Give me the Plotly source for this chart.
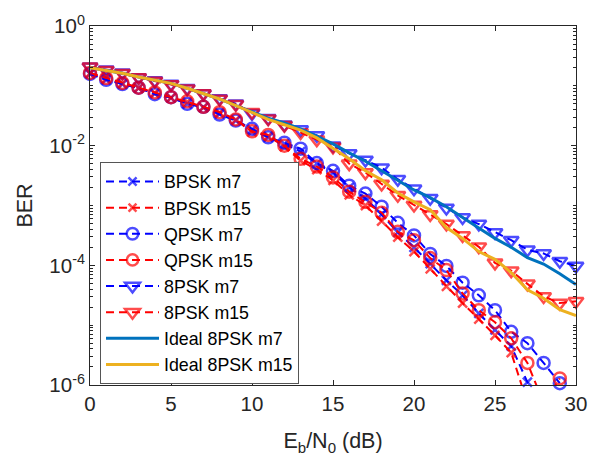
import plotly.graph_objects as go

ebn0 = list(range(0, 31))

bpsk_m7 = [0.158, 0.126, 0.107, 0.0912, 0.0741, 0.0631, 0.0501, 0.0437, 0.0339, 0.0263,
           0.0186, 0.0138, 0.0107, 0.00794, 0.00501, 0.00355, 0.0020, 0.00132, 7.08e-4, 3.55e-4,
           2.0e-4, 1.07e-4, 5.62e-5, 3.16e-5, 1.58e-5, 8.32e-6, 4.47e-6, 1.12e-6, 5.0e-7, None, None]
bpsk_m15 = [0.162, 0.132, 0.110, 0.0912, 0.0759, 0.0631, 0.0537, 0.0437, 0.0355, 0.0269,
            0.0170, 0.0145, 0.00955, 0.00562, 0.00398, 0.00263, 0.00151, 1.0e-3, 5.5e-4, 2.95e-4,
            1.7e-4, 8.71e-5, 4.47e-5, 2.34e-5, 1.26e-5, 6.76e-6, 3.47e-6, 5.0e-7, None, None, None]
qpsk_m7 = [0.158, 0.126, 0.107, 0.0933, 0.0724, 0.0646, 0.0501, 0.0447, 0.0331, 0.0263,
           0.0191, 0.0138, 0.0112, 0.00891, 0.00513, 0.0038, 0.00214, 0.00158, 9.55e-4, 5.13e-4,
           3.16e-4, 1.55e-4, 9.77e-5, 5.13e-5, 3.16e-5, 1.78e-5, 7.76e-6, 5.01e-6, 2.34e-6, 1.07e-6, None]
qpsk_m15 = [0.164, 0.135, 0.112, 0.0933, 0.0776, 0.0646, 0.055, 0.0447, 0.0363, 0.0275,
            0.0174, 0.0151, 0.0100, 0.00603, 0.00447, 0.00295, 0.0017, 0.00115, 7.59e-4, 3.63e-4,
            2.63e-4, 1.32e-4, 8.32e-5, 3.39e-5, 1.78e-5, 1.12e-5, 6.03e-6, 2.34e-6, 5.0e-7, 1.29e-6, None]
psk8_m7 = [0.209, 0.186, 0.166, 0.138, 0.123, 0.107, 0.0912, 0.0741, 0.0617, 0.0501,
           0.0347, 0.0288, 0.0224, 0.0186, 0.0148, 0.0100, 0.00741, 0.00575, 0.00427, 0.00275,
           0.00191, 0.00132, 9.12e-4, 6.31e-4, 4.9e-4, 3.55e-4, 2.63e-4, 1.82e-4, 1.58e-4, 1.17e-4, 9.77e-5]
psk8_m15 = [0.209, 0.182, 0.162, 0.138, 0.120, 0.105, 0.0891, 0.0741, 0.0603, 0.049,
            0.0363, 0.0282, 0.0219, 0.0166, 0.0126, 0.00955, 0.00501, 0.00355, 0.00229, 0.00148,
            0.00102, 7.08e-4, 4.9e-4, 3.16e-4, 2.04e-4, 1.1e-4, 8.13e-5, 4.9e-5, 3.02e-5, 2.34e-5, 2.51e-5]
ideal_m7 = [0.200, 0.182, 0.162, 0.141, 0.126, 0.110, 0.0912, 0.0741, 0.0603, 0.0468,
            0.0363, 0.0288, 0.0240, 0.0191, 0.0145, 0.0107, 0.00759, 0.0055, 0.0038, 0.00263,
            0.00182, 0.00135, 9.55e-4, 6.31e-4, 4.27e-4, 2.82e-4, 2.0e-4, 1.35e-4, 1.05e-4, 7.24e-5, 4.79e-5]
ideal_m15 = [0.200, 0.182, 0.162, 0.141, 0.126, 0.110, 0.0912, 0.0741, 0.0603, 0.0468,
             0.0355, 0.0275, 0.0224, 0.0182, 0.0135, 0.00891, 0.00603, 0.0038, 0.00269, 0.00162,
             0.00115, 8.51e-4, 4.27e-4, 2.82e-4, 1.7e-4, 1.26e-4, 7.59e-5, 3.89e-5, 2.82e-5, 1.82e-5, 1.45e-5]

x_ticks = [0, 5, 10, 15, 20, 25, 30]
y_tickvals = [1e-6, 1e-4, 1e-2, 1]
y_ticktext = ["10<sup>-6</sup>", "10<sup>-4</sup>", "10<sup>-2</sup>", "10<sup>0</sup>"]

# minor tick positions on the log axis (2..9 in every decade, plus odd decades)
y_minor = [m * 10.0 ** e for e in range(-6, 0) for m in range(1, 10)]
y_minor = [v for v in y_minor if v not in y_tickvals]

YMIN = 1e-6
BLUE = "rgb(0,0,255)"
RED = "rgb(255,0,0)"
TXT = "#262626"
FONT = "Liberation Sans, Arial, sans-serif"

marker_series = [
    ("BPSK m7", bpsk_m7, BLUE, "x-thin-open", 9),
    ("BPSK m15", bpsk_m15, RED, "x-thin-open", 9),
    ("QPSK m7", qpsk_m7, BLUE, "circle-open", 12),
    ("QPSK m15", qpsk_m15, RED, "circle-open", 12),
    ("8PSK m7", psk8_m7, BLUE, "triangle-down-open", 13),
    ("8PSK m15", psk8_m15, RED, "triangle-down-open", 13),
]

fig = go.Figure()
for i, (name, vals, col, sym, sz) in enumerate(marker_series):
    sizes = [sz if (v is not None and v >= YMIN) else 0 for v in vals]
    fig.add_trace(go.Scatter(
        x=ebn0, y=vals, name=name, mode="lines+markers",
        line=dict(color=col, width=2, dash="8px,5px"),
        marker=dict(symbol=sym, size=sizes, color=col, line=dict(color=col, width=2.5)),
        cliponaxis=False, connectgaps=False,
    ))

for i, (name, vals, col) in enumerate([("Ideal 8PSK m7", ideal_m7, "#0072BD"),
                                       ("Ideal 8PSK m15", ideal_m15, "#EDB120")]):
    fig.add_trace(go.Scatter(
        x=ebn0, y=vals, name=name, mode="lines",
        line=dict(color=col, width=3),
    ))

axis_common = dict(
    showline=True, linecolor=TXT, linewidth=1, mirror="ticks",
    ticks="inside", tickcolor=TXT, tickwidth=1, showgrid=False, zeroline=False,
    tickfont=dict(family=FONT, size=20.5, color=TXT), ticklabeloverflow="allow",
)

fig.update_layout(
    width=599, height=462,
    margin=dict(l=90, r=23, t=13, b=77),
    paper_bgcolor="white", plot_bgcolor="white",
    font=dict(family=FONT, color=TXT),
    xaxis=dict(range=[0, 30], tickvals=x_ticks, ticklen=5,
               title=dict(text="E<sub>b</sub>/N<sub>0</sub> (dB)", font=dict(family=FONT, size=21.5, color=TXT), standoff=19),
               **axis_common),
    yaxis=dict(type="log", range=[-6, 0], tickvals=y_tickvals, ticktext=y_ticktext, ticklen=5,
               minor=dict(ticks="inside", ticklen=3, tickcolor=TXT, tickmode="array", tickvals=y_minor, showgrid=False),
               title=dict(text="BER", font=dict(family=FONT, size=21.5, color=TXT), standoff=10),
               **axis_common),
    legend=dict(x=0.0206, y=0.62, xanchor="left", yanchor="top",
                bgcolor="white", bordercolor="#555555", borderwidth=1,
                font=dict(family=FONT, size=17.8, color="black"), itemwidth=53,
                traceorder="normal"),
    showlegend=True,
)

fig.write_html("out.html")
